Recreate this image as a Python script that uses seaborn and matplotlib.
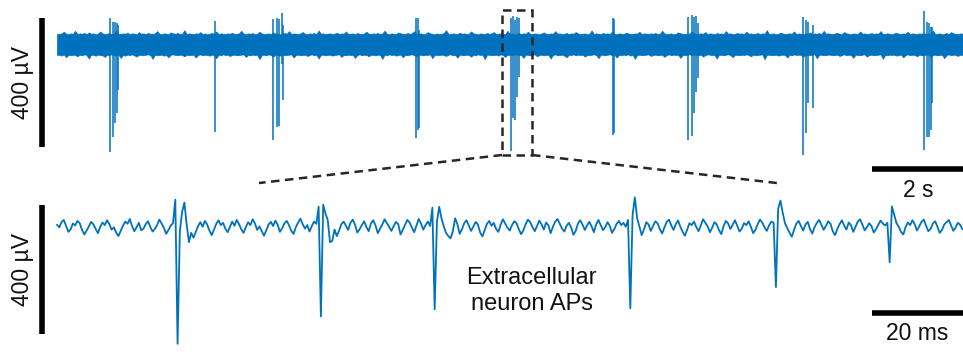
import numpy as np
import matplotlib
matplotlib.use("Agg")
import matplotlib.pyplot as plt
from matplotlib.patches import Rectangle
import seaborn as sns

sns.set_theme(style="white")
plt.rcParams["font.family"] = ["Liberation Sans", "DejaVu Sans"]

TRACE_BLUE = "#0072BD"

# ---------------- long recording (seconds, µV) ----------------
# min / max envelope of the raw signal in 0.05 s bins
env_dt_s = 0.05
env_upper_uv = [
    35, 34, 36, 41, 35, 33, 36, 35, 44, 34, 36, 35, 37, 34, 39, 35, 36, 33, 35, 42,
    36, 34, 35, 37, 34, 36, 45, 35, 34, 36, 35, 38, 34, 36, 35, 33, 40, 35, 36, 34,
    37, 35, 34, 36, 43, 35, 33, 36, 35, 34, 39, 36, 35, 37, 34, 35, 46, 34, 36, 35,
    34, 36, 35, 40, 34, 36, 33, 35, 37, 35, 42, 34, 36, 35, 34, 36, 35, 38, 34, 35,
    36, 44, 35, 34, 36, 35, 37, 33, 35, 41, 36, 34, 35, 36, 34, 39, 35, 36, 33, 35,
    37, 35, 43, 34, 36, 35, 34, 36, 40, 35, 33, 36, 35, 37, 34, 45, 35, 36, 34, 35,
    36, 34, 35, 38, 34, 36, 35, 42, 34, 35, 36, 33, 37, 35, 34, 36, 41, 35, 34, 36,
    35, 37, 34, 36, 44, 35, 33, 36, 35, 34, 39, 36, 35, 34, 37, 35, 36, 43, 34, 35,
    36, 34, 35, 40, 36, 35, 33, 36, 34, 35, 37, 46, 35, 34, 36, 35, 34, 38, 35, 36,
    34, 35, 42, 36, 35, 33, 36, 35, 34, 37, 35, 36, 40, 34, 35, 36, 35, 34, 44, 35,
    36, 33, 35, 37, 34, 36, 35, 41, 35, 34, 36, 35, 33, 36, 39, 35, 34, 36, 35, 43,
    35, 36, 34, 35, 37, 34, 36, 35, 40, 36, 34, 35, 36, 33, 35, 45, 34, 36, 35, 34,
    37, 35, 36, 34, 42, 35, 33, 36, 35, 34, 38, 36, 35, 34, 36, 35, 41, 34, 36, 35,
    34, 36, 35, 37, 34, 35, 44, 36, 34, 35, 36, 33, 35, 39, 36, 35, 34, 36, 35, 42,
    36, 34, 35, 36, 35, 40, 34, 36, 35, 33, 37, 35, 36, 34, 43, 35, 36, 34, 35, 37,
    35, 36, 34, 41, 35, 36, 34, 35, 37, 34, 36, 35, 46, 34, 35, 36, 33, 35, 38, 36,
    34, 35, 36, 35, 42, 34, 36, 35, 33, 36, 35, 39, 34, 36, 35, 37, 34, 44, 35, 36,
    35, 34, 36, 37, 35, 34, 40, 36, 35, 33, 36, 35, 34, 42, 35, 36, 34, 35, 37, 34,
    36, 35, 43, 34, 35, 36, 35, 33, 36, 38, 35, 34, 36, 35, 41, 34, 36, 35, 34, 36,
    35, 37, 34, 36, 35, 45, 34, 35, 36, 33, 35, 37, 34, 40, 36, 35, 34, 36, 35, 37,
]
env_lower_uv = [
    -31, -30, -33, -29, -38, -31, -32, -30, -31, -35, -30, -32, -29, -31, -42, -30, -31, -33, -30, -31,
    -32, -37, -30, -31, -29, -32, -31, -30, -40, -31, -33, -30, -31, -29, -32, -36, -30, -31, -32, -30,
    -29, -31, -43, -30, -32, -31, -30, -33, -31, -38, -30, -29, -31, -32, -30, -31, -35, -30, -32, -31,
    -30, -39, -31, -29, -32, -30, -31, -33, -30, -31, -41, -30, -32, -29, -31, -30, -34, -31, -30, -32,
    -31, -30, -29, -37, -31, -32, -30, -31, -30, -44, -31, -30, -32, -29, -31, -36, -30, -31, -33, -30,
    -32, -31, -30, -29, -39, -31, -30, -32, -31, -30, -34, -31, -29, -32, -30, -42, -31, -30, -32, -31,
    -30, -33, -31, -30, -29, -37, -31, -32, -30, -31, -30, -40, -31, -29, -32, -30, -31, -35, -30, -31,
    -32, -30, -31, -43, -30, -32, -29, -31, -30, -33, -31, -30, -38, -31, -32, -30, -29, -31, -36, -30,
    -31, -32, -30, -31, -29, -41, -30, -32, -31, -30, -31, -34, -30, -29, -32, -31, -39, -30, -31, -32,
    -30, -31, -36, -30, -32, -29, -31, -30, -44, -31, -30, -32, -31, -30, -33, -29, -31, -37, -30, -32,
    -31, -30, -29, -32, -31, -40, -30, -31, -32, -30, -29, -35, -31, -30, -32, -31, -30, -42, -31, -29,
    -32, -31, -30, -33, -38, -30, -31, -29, -32, -30, -31, -30, -36, -31, -32, -30, -29, -31, -41, -30,
    -31, -32, -30, -29, -31, -30, -39, -31, -32, -30, -31, -29, -33, -30, -43, -31, -30, -32, -31, -30,
    -29, -34, -31, -30, -32, -31, -30, -37, -31, -29, -32, -30, -31, -30, -40, -31, -32, -30, -29, -31,
    -30, -31, -32, -30, -36, -31, -29, -30, -32, -31, -42, -30, -31, -32, -30, -29, -31, -38, -30, -31,
    -32, -30, -31, -29, -31, -35, -30, -32, -31, -30, -29, -44, -31, -30, -32, -31, -30, -33, -31, -30,
    -31, -39, -30, -32, -29, -31, -30, -31, -37, -30, -32, -31, -30, -29, -41, -31, -30, -32, -31, -30,
    -30, -32, -31, -30, -34, -31, -29, -32, -30, -31, -40, -30, -31, -32, -30, -29, -36, -31, -30, -32,
    -31, -30, -29, -43, -31, -32, -30, -31, -30, -33, -31, -30, -38, -31, -29, -32, -30, -31, -35, -30,
    -32, -31, -30, -29, -37, -31, -30, -32, -31, -30, -41, -31, -29, -32, -30, -31, -34, -30, -31, -32,
]

# detected action potentials: time, trough and peak amplitude
spike_t_s = [
    1.165, 1.237, 1.275, 1.312, 1.347,
    3.473,
    4.741, 4.842, 4.886, 4.938, 4.974,
    7.890, 7.927, 7.963,
    9.985, 10.029, 10.066, 10.103, 10.147,
    12.213, 12.242,
    13.862, 13.963, 14.007, 14.044, 14.081,
    16.402, 16.455, 16.499, 16.609,
    19.062, 19.114, 19.158, 19.202, 19.237,
]
spike_min_uv = [
    -332, -285, -242, -211, -140,
    -270,
    -295, -254, -251, -60, -170,
    -288, -264, -257,
    -329, -226, -233, -161, -99,
    -279, -273,
    -295, -282, -211, -146, -102,
    -341, -273, -180, -195,
    -326, -285, -285, -264, -180,
]
spike_max_uv = [
    84, 71, 71, 68, 62,
    74,
    81, 84, 81, 99, 62,
    84, 84, 47,
    84, 90, 78, 87, 84,
    84, 81,
    87, 93, 87, 90, 68,
    87, 78, 71, 62,
    105, 71, 68, 56, 56,
]

# ---------------- zoomed segment (ms, µV) ----------------
seg_dt_ms = 0.5
seg_uv = [
    10, 2, 18, 25, 6, -12, -4, 14, 8, 22, 15, -6, -20, -8, 5, 19, 11, -3, -16, 4,
    17, 9, 24, 12, -5, 2, -14, -25, -9, 7, 20, 13, 28, 6, -10, 3, 16, -7, -2, 12,
    21, 4, -11, -3, 9, 26, 14, 0, -18, -6, 8, 15, 88, -359, -10, 50, 79, 10, -44, -15,
    -30, -12, 6, 18, 4, 22, 11, -8, -22, -5, 13, 24, 9, 16, -2, -13, 3, 20, 7, 25,
    12, -4, -15, 2, 18, 9, 27, 14, -6, 5, -10, -24, -7, 11, 19, 6, 23, 10, -12, 0,
    15, 22, 8, -9, -18, 3, 17, 29, 12, -2, 9, -11, 6, 20, 13, 66, -274, 72, 45, 25,
    -44, -40, -5, -25, -8, 12, 20, 7, -6, 16, 26, 10, -14, -4, 9, 21, 3, -10, 14, 24,
    8, -16, -2, 11, 27, 15, 4, -9, 6, 19, 12, -20, -6, 10, 25, 17, 2, -13, 8, 28,
    14, -5, 9, 20, 6, 63, -252, 20, 66, 30, 5, -15, -25, -32, -10, 30, 12, -18, -4, 15,
    24, 8, -9, 4, 19, 11, -14, -26, -6, 13, 22, 7, 16, -3, -12, 10, 27, 14, 1, -8,
    9, 21, 15, -4, -19, -7, 12, 26, 18, 3, -10, 6, 23, 11, -5, 17, 8, -16, 4, 20,
    28, 13, -2, -11, 7, 16, 2, -21, -9, 14, 24, 10, -6, 8, 19, 5, -13, 11, 25, 9,
    -7, 3, 18, 6, -15, -3, 13, 22, 9, 16, 4, 25, -249, 40, 95, 30, 5, -22, -5, 18,
    11, -9, 6, 21, 14, -4, -17, 2, 19, 26, 8, -6, 12, 23, 4, -12, -24, -5, 15, 9,
    20, 3, -10, 8, 27, 16, 5, -13, 1, 18, 11, -7, -19, 6, 22, 14, -3, 10, 24, 7,
    -11, -2, 15, 9, 21, 4, -16, -6, 12, 26, 17, 2, -9, 8, 20, 16, -183, 60, 85, 47,
    15, 0, -15, -27, -5, 14, 22, 6, -8, 11, 19, -4, -17, 3, 16, 25, 10, -6, 7, 21,
    13, -10, -22, -3, 12, 24, 8, -5, 17, 9, -12, 4, 20, 27, 11, -7, 2, 15, 6, -14,
    -4, 10, 23, 14, 8, 16, -106, 67, 41, 15, 4, -12, -20, 3, 17, 9, 24, 12, -8, 5,
    19, 26, 7, -10, -3, 14, 21, 4, -15, -6, 11, 18, 25, 8, -9, 2, 16, 10, -4,
]

# scale bars
bar_uv = 400
bar_long_s = 2
bar_seg_ms = 20

# ---------------- figure ----------------
fig = plt.figure(figsize=(9.63, 3.52), dpi=100)
ax_top = fig.add_axes([0.0, 0.4744, 1.0, 0.5256])
ax_bot = fig.add_axes([0.0, 0.0, 1.0, 0.4744])
for ax in (ax_top, ax_bot):
    ax.set_axis_off()

# long recording
t_env = np.arange(len(env_upper_uv)) * env_dt_s
ax_top.fill_between(t_env, env_lower_uv, env_upper_uv,
                    color=TRACE_BLUE, lw=0.5, edgecolor=TRACE_BLUE)
ax_top.vlines(spike_t_s, spike_min_uv, spike_max_uv, color=TRACE_BLUE, lw=1.1)
ax_top.set_xlim(-1.2527, 19.912)
ax_top.set_ylim(-434, 139.5)

# region shown below
box_t0, box_t1 = 9.78, 10.44
box_lo, box_hi = -341, 108.5
dash_kw = dict(color="#262626", lw=1.8, dashes=(3.4, 2.2))
ax_top.add_patch(Rectangle((box_t0, box_lo), box_t1 - box_t0, box_hi - box_lo,
                           fill=False, edgecolor="#262626", lw=1.8,
                           linestyle=(0, (3.4, 2.2)), clip_on=False))
ax_top.plot([box_t0, 4.44], [box_lo, -427.8], clip_on=False, **dash_kw)
ax_top.plot([box_t1, 15.82], [box_lo, -427.8], clip_on=False, **dash_kw)

# long-recording scale bars
ax_top.plot([-0.33, -0.33], [-316, -316 + bar_uv], color="black", lw=4,
            solid_capstyle="butt", clip_on=False)
ax_top.text(-0.769, -316 + bar_uv / 2, "400 µV", rotation=90, ha="center",
            va="center", fontsize=16.5, color="#111111")
ax_top.plot([19.912 - bar_long_s, 19.912], [-384, -384], color="black", lw=4,
            solid_capstyle="butt", clip_on=False)
ax_top.text(18.92, -449.5, "2 s", ha="center", va="center", fontsize=16.5,
            color="#111111")

# zoomed segment
t_seg = np.arange(len(seg_uv)) * seg_dt_ms
sns.lineplot(x=t_seg, y=seg_uv, ax=ax_bot, color=TRACE_BLUE, lw=1.3,
             estimator=None, sort=False)
ax_bot.set_xlim(-12.527, 199.12)
ax_bot.set_ylim(-384.4, 133.3)
ax_bot.set_axis_off()

ax_bot.plot([-3.297, -3.297], [-329, -329 + bar_uv], color="black", lw=4,
            solid_capstyle="butt", clip_on=False)
ax_bot.text(-7.69, -329 + bar_uv / 2, "400 µV", rotation=90, ha="center",
            va="center", fontsize=16.5, color="#111111")
ax_bot.plot([199.12 - bar_seg_ms, 199.12], [-264, -264], color="black", lw=4,
            solid_capstyle="butt", clip_on=False)
ax_bot.text(189.1, -327, "20 ms", ha="center", va="center", fontsize=16.5,
            color="#111111")
ax_bot.text(104.3, -195, "Extracellular\nneuron APs", ha="center", va="center",
            multialignment="center", fontsize=17, linespacing=1.2,
            color="#111111")

fig.savefig("out.png", dpi=100)
